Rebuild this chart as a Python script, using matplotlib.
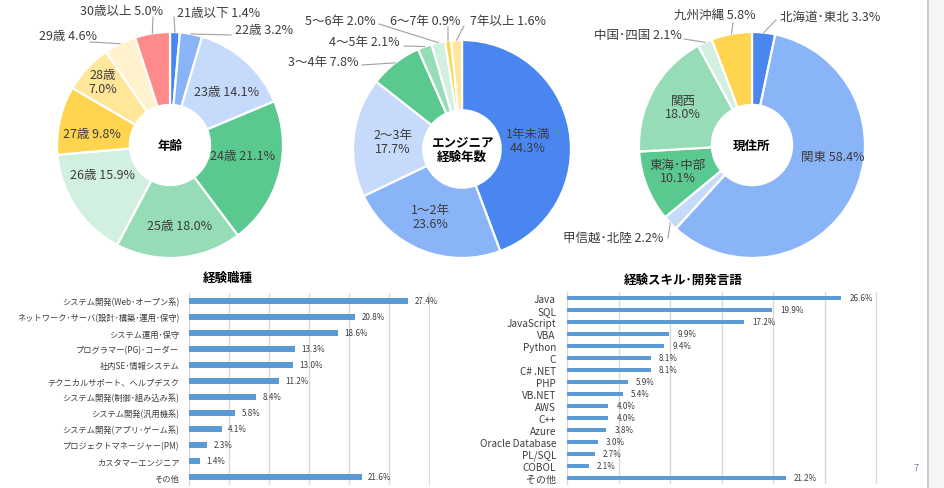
import numpy as np
import matplotlib
matplotlib.use('Agg')
import matplotlib.pyplot as plt
from matplotlib.patches import Rectangle
from matplotlib.lines import Line2D

plt.rcParams['font.family'] = ['Noto Sans CJK JP', 'DejaVu Sans']

W, H = 945, 489

# ---- data ----
age_labels = ['21歳以下', '22歳', '23歳', '24歳', '25歳', '26歳', '27歳', '28歳', '29歳', '30歳以上']
age_values = [1.4, 3.2, 14.1, 21.1, 18.0, 15.9, 9.8, 7.0, 4.6, 5.0]

exp_labels = ['1年未満', '1～2年', '2～3年', '3～4年', '4～5年', '5～6年', '6～7年', '7年以上']
exp_values = [44.3, 23.6, 17.7, 7.8, 2.1, 2.0, 0.9, 1.6]

area_labels = ['北海道･東北', '関東', '甲信越･北陸', '東海･中部', '関西', '中国･四国', '九州沖縄']
area_values = [3.3, 58.4, 2.2, 10.1, 18.0, 2.1, 5.8]

job_labels = ['システム開発(Web･オープン系)', 'ネットワーク･サーバ(設計･構築･運用･保守)',
              'システム運用･保守', 'プログラマー(PG)･コーダー', '社内SE･情報システム',
              'テクニカルサポート、ヘルプデスク', 'システム開発(制御･組み込み系)',
              'システム開発(汎用機系)', 'システム開発(アプリ･ゲーム系)',
              'プロジェクトマネージャー(PM)', 'カスタマーエンジニア', 'その他']
job_values = [27.4, 20.8, 18.6, 13.3, 13.0, 11.2, 8.4, 5.8, 4.1, 2.3, 1.4, 21.6]

lang_labels = ['Java', 'SQL', 'JavaScript', 'VBA', 'Python', 'C', 'C# .NET', 'PHP',
               'VB.NET', 'AWS', 'C++', 'Azure', 'Oracle Database', 'PL/SQL', 'COBOL', 'その他']
lang_values = [26.6, 19.9, 17.2, 9.9, 9.4, 8.1, 8.1, 5.9, 5.4, 4.0, 4.0, 3.8, 3.0, 2.7, 2.1, 21.2]

# ---- styles ----
pal = ['#4a86f0', '#8ab4f8', '#c6dafc', '#5ac98f', '#95dcb7', '#d1f0e0',
       '#ffd54f', '#ffe699', '#fff2cc', '#ff8a8a']
txt_col = '#3c3c3c'
line_col = '#a0a0a0'

# label layout per pie: (x, y, ha, leader end) in px from top-left
age_layout = [
    (177, 14, 'left', (174, 18)),
    (235, 31, 'left', (231, 36)),
    (227, 93, 'center', None),
    (243, 157, 'center', None),
    (180, 227, 'center', None),
    (102, 176, 'center', None),
    (92, 135, 'center', None),
    (103, 83, 'center', None),
    (97, 37, 'right', (90, 43)),
    (163, 12, 'right', (153, 18)),
]
age_sep = [' '] * 7 + ['\n'] + [' '] * 2

exp_layout = [
    (528, 142, 'center', None),
    (430, 218, 'center', None),
    (393, 143, 'center', None),
    (358, 63, 'right', (362, 66)),
    (400, 43, 'right', (404, 47)),
    (376, 22, 'right', (379, 25)),
    (425, 22, 'center', (448, 28)),
    (470, 22, 'left', (464, 27)),
]
exp_sep = ['\n', '\n', '\n'] + [' '] * 5

area_layout = [
    (780, 17, 'left', (776, 21)),
    (833, 157, 'center', None),
    (663, 238, 'right', (668, 239)),
    (678, 172, 'center', None),
    (683, 108, 'center', None),
    (682, 36, 'right', (684, 40)),
    (715, 15, 'center', (733, 24)),
]
area_sep = [' ', ' ', ' ', '\n', '\n', ' ', ' ']

fig = plt.figure(figsize=(W / 100, H / 100), dpi=100)
fig.patch.set_facecolor('white')
base = fig.add_axes([0, 0, 1, 1])


def draw_donut(ax, values, labels, seps, layout, colors, cx, cy, r, title):
    wedges, _ = ax.pie(values, colors=colors, center=(cx, H - cy), radius=r,
                       startangle=90, counterclock=False, frame=True,
                       wedgeprops=dict(width=r * 0.645, edgecolor='white', linewidth=1.6))
    for w, lab, v, sep, (tx, ty, ha, end) in zip(wedges, labels, values, seps, layout):
        base.text(tx, H - ty, f'{lab}{sep}{v:.1f}%', ha=ha, va='center',
                  fontsize=9, color=txt_col, linespacing=1.1, zorder=5)
        if end is not None:
            a = np.deg2rad((w.theta1 + w.theta2) / 2)
            sx = cx + r * np.cos(a)
            sy = (H - cy) + r * np.sin(a)
            ax.plot([sx, end[0]], [sy, H - end[1]], color=line_col, lw=0.8, zorder=4)
    ax.text(cx, H - cy, title, ha='center', va='center', fontsize=9,
            fontweight='bold', color='black', linespacing=1.15, zorder=5)


draw_donut(base, age_values, age_labels, age_sep, age_layout, pal,
           170, 146, 113, '年齢')
draw_donut(base, exp_values, exp_labels, exp_sep, exp_layout, pal[:8],
           462, 150, 109, 'エンジニア\n経験年数')
draw_donut(base, area_values, area_labels, area_sep, area_layout, pal[:7],
           752, 146, 113, '現住所')

base.set_xlim(0, W)
base.set_ylim(0, H)
base.set_aspect('auto')
base.axis('off')

# right side page strip
base.add_patch(Rectangle((928, 0), W - 928, H, color='#f5f5f5', zorder=0))
base.add_line(Line2D([927.5, 927.5], [0, H], color='#c8c8c8', lw=1.3))
base.text(916, H - 469, '7', ha='center', va='center', fontsize=6.5, color='#70809f')


def draw_bars(rect, labels, values, height, label_size, val_size, pad):
    ax = fig.add_axes([rect[0] / W, 1 - (rect[1] + rect[3]) / H, rect[2] / W, rect[3] / H])
    y = np.arange(len(values))
    ax.barh(y, values, height=height, color='#5b9bd5', zorder=3)
    ax.set_ylim(len(values) - 0.5, -0.5)
    ax.set_xlim(0, 30.15)
    ax.set_xticks(np.arange(0, 31, 5))
    ax.grid(axis='x', color='#d9d9d9', lw=1.0, zorder=0)
    ax.tick_params(axis='x', length=0, labelbottom=False)
    ax.tick_params(axis='y', length=0, pad=pad, labelsize=label_size, labelcolor=txt_col)
    ax.set_yticks(y)
    ax.set_yticklabels(labels)
    for s in ['top', 'right', 'bottom']:
        ax.spines[s].set_visible(False)
    ax.spines['left'].set_color('#d9d9d9')
    for yi, v in zip(y, values):
        ax.text(v + 0.8, yi, f'{v:.1f}%', va='center', ha='left',
                fontsize=val_size, color=txt_col, clip_on=False)
    return ax


draw_bars((189, 294, 241, 192), job_labels, job_values, 0.38, 5.95, 5.8, 7)
draw_bars((567, 293, 311, 192), lang_labels, lang_values, 0.38, 7.2, 5.8, 8)

fig.text(228 / W, 1 - 278 / H, '経験職種', ha='center', va='center',
         fontsize=9, fontweight='bold', color='black')
fig.text(683 / W, 1 - 280 / H, '経験スキル･開発言語', ha='center', va='center',
         fontsize=9, fontweight='bold', color='black')

fig.savefig('out.png', dpi=100)
